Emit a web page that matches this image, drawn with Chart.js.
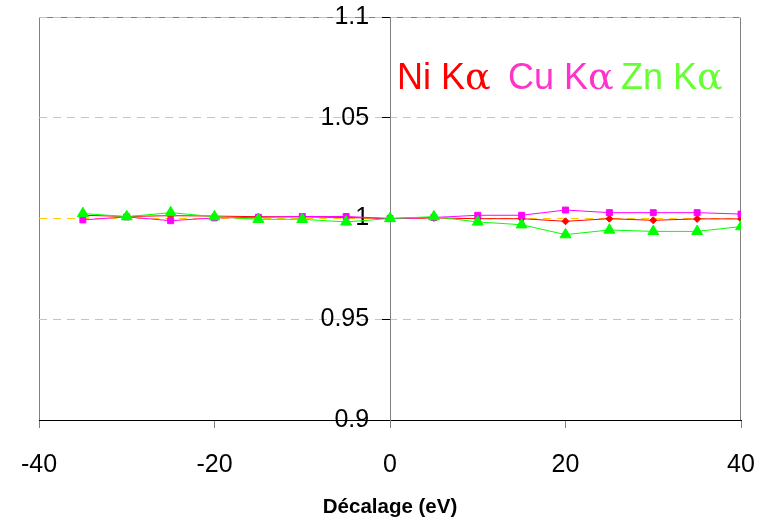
<!DOCTYPE html>
<html>
<head>
<meta charset="utf-8">
<script src="https://cdn.jsdelivr.net/npm/chart.js@4/dist/chart.umd.min.js"></script>
<style>
html,body{margin:0;padding:0;background:#fff;}
#wrap{width:767px;height:522px;position:relative;}
</style>
</head>
<body>
<div id="wrap"><canvas id="c" width="767" height="522"></canvas></div>
<script>
const shifts = [-35, -30, -25, -20, -15, -10, -5, 0, 5, 10, 15, 20, 25, 30, 35, 40];
const niKa = [1.0016, 1.0010, 1.0014, 1.0012, 1.0009, 1.0008, 1.0005, 1.0000, 1.0003, 0.9999, 0.9999, 0.9986, 0.9999, 0.9991, 0.9998, 0.9998];
const cuKa = [0.9993, 1.0008, 0.9989, 1.0003, 1.0006, 1.0010, 1.0010, 1.0000, 1.0005, 1.0016, 1.0016, 1.0042, 1.0029, 1.0029, 1.0029, 1.0022];
const znKa = [1.0025, 1.0009, 1.0029, 1.0009, 0.9996, 0.9996, 0.9983, 1.0000, 1.0009, 0.9983, 0.9969, 0.9920, 0.9943, 0.9936, 0.9936, 0.9960];
const seriesNames = ["Ni K", "Cu K", "Zn K"];
const xTitle = "Décalage (eV)";

const pts = arr => shifts.map((x, i) => ({x: x, y: arr[i]}));

const framePlugin = {
  id: 'frame',
  beforeDraw(chart) {
    const {ctx, chartArea: a} = chart;
    ctx.save();
    ctx.strokeStyle = '#808080';
    ctx.lineWidth = 1;
    ctx.beginPath();
    ctx.moveTo(a.left + 0.5, a.bottom);
    ctx.lineTo(a.left + 0.5, a.top + 0.5);
    ctx.lineTo(a.right - 0.5, a.top + 0.5);
    ctx.lineTo(a.right - 0.5, a.bottom);
    ctx.stroke();
    ctx.restore();
  }
};

const labelPlugin = {
  id: 'seriesLabels',
  afterDraw(chart) {
    const {ctx} = chart;
    const items = [
      {t: seriesNames[0], c: '#FF0000', x: 397},
      {t: seriesNames[1], c: '#FF33CC', x: 508},
      {t: seriesNames[2], c: '#66FF33', x: 621}
    ];
    ctx.save();
    ctx.textBaseline = 'alphabetic';
    ctx.textAlign = 'left';
    items.forEach(it => {
      ctx.fillStyle = it.c;
      ctx.font = '36px "Liberation Sans", Arial, sans-serif';
      ctx.fillText(it.t, it.x, 89);
      const w = ctx.measureText(it.t).width;
      ctx.font = '38px "DejaVu Serif", "Liberation Serif", serif';
      ctx.fillText('\u03B1', it.x + w, 89);
    });
    ctx.restore();
  }
};

new Chart(document.getElementById('c'), {
  type: 'line',
  data: {
    datasets: [
      {label: 'Ni Kα', data: pts(niKa), borderColor: '#FF0000', backgroundColor: '#FF0000',
       borderWidth: 1, pointStyle: 'rectRot', pointRadius: 3.5, order: 2},
      {label: 'Cu Kα', data: pts(cuKa), borderColor: '#FF00FF', backgroundColor: '#FF00FF',
       borderWidth: 1, pointStyle: 'rect', pointRadius: 4.2, order: 1},
      {label: 'Zn Kα', data: pts(znKa), borderColor: '#00FF00', backgroundColor: '#00FF00',
       borderWidth: 1, pointStyle: 'triangle', pointRadius: 6.3, order: 0}
    ]
  },
  options: {
    responsive: false,
    animation: false,
    events: [],
    layout: {padding: {left: 39, right: 26, top: 17, bottom: 0}},
    plugins: {legend: {display: false}, tooltip: {enabled: false}},
    elements: {line: {tension: 0}, point: {borderWidth: 0, hoverRadius: 0}},
    scales: {
      x: {
        type: 'linear',
        position: 'bottom',
        min: -40, max: 40,
        ticks: {stepSize: 20, color: '#000', padding: 22,
                font: {family: '"Liberation Sans", Arial, sans-serif', size: 25}},
        grid: {drawOnChartArea: false, drawTicks: true, tickLength: 8, tickColor: '#808080', color: '#808080'},
        border: {display: true, color: '#000000', width: 1},
        title: {display: true, text: xTitle, color: '#000',
                font: {family: '"Liberation Sans", Arial, sans-serif', size: 20.5, weight: 'bold'},
                padding: {top: 0, bottom: 2}},
        afterFit(scale) {
          scale.height = 102;
          scale.paddingLeft = 0; scale.paddingRight = 0;
          scale.paddingTop = 0; scale.paddingBottom = 0;
        }
      },
      y: {
        type: 'linear',
        position: {x: 0},
        min: 0.9, max: 1.1,
        ticks: {stepSize: 0.05, color: '#000', padding: 17,
                font: {family: '"Liberation Sans", Arial, sans-serif', size: 25},
                callback: v => String(parseFloat(v.toFixed(2))) + '\u00A0\u00A0\u00A0'},
        grid: {color: ctx => (ctx.tick && Math.abs(ctx.tick.value - 0.9) < 1e-6) ? 'rgba(0,0,0,0)' : '#FFCC00',
               lineWidth: 1, tickLength: 8, tickColor: '#000', tickBorderDash: [0, 0]},
        border: {display: true, color: '#808080', width: 1, dash: [8, 6]},
        afterFit(scale) {
          scale.paddingLeft = 0; scale.paddingRight = 0;
          scale.paddingTop = 0; scale.paddingBottom = 0;
        }
      }
    }
  },
  plugins: [framePlugin, labelPlugin]
});
</script>
</body>
</html>
